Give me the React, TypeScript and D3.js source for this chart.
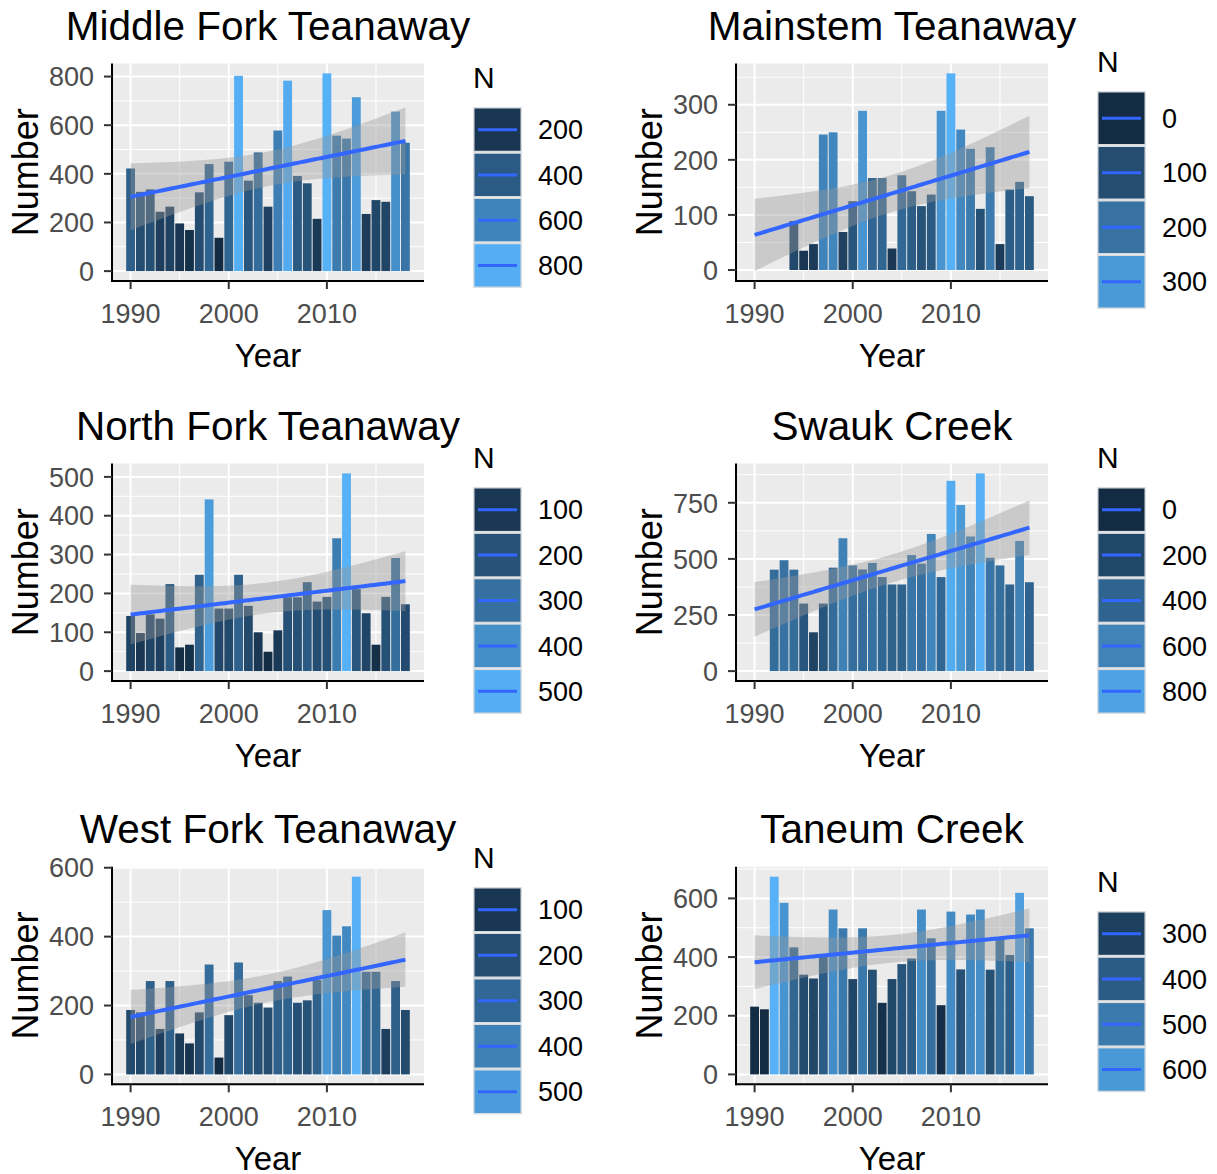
import {useEffect, useRef} from 'react';
import * as d3 from 'd3';

// data
const years = [1990, 1991, 1992, 1993, 1994, 1995, 1996, 1997, 1998, 1999, 2000, 2001, 2002, 2003, 2004,
  2005, 2006, 2007, 2008, 2009, 2010, 2011, 2012, 2013, 2014, 2015, 2016, 2017, 2018];

const middleFork = [422, 326, 336, 244, 265, 196, 169, 324, 440, 137, 450, 803, 372, 488, 265,
  578, 783, 391, 361, 215, 813, 557, 545, 715, 235, 292, 285, 656, 528];
const mainstem = [0, 0, 0, 0, 89, 35, 47, 246, 250, 69, 125, 289, 167, 167, 39,
  172, 143, 116, 137, 289, 357, 255, 220, 111, 223, 47, 146, 160, 134];
const northFork = [142, 98, 146, 135, 224, 61, 68, 248, 442, 161, 161, 248, 168, 100, 50,
  105, 190, 190, 229, 179, 191, 342, 509, 211, 149, 68, 191, 291, 172];
const swauk = [0, 0, 452, 494, 452, 301, 173, 301, 461, 592, 471, 453, 482, 419, 386,
  386, 517, 479, 611, 419, 848, 740, 600, 881, 505, 471, 386, 580, 396];
const westFork = [187, 180, 271, 132, 271, 119, 90, 180, 319, 49, 172, 325, 230, 208, 194,
  271, 284, 208, 215, 274, 477, 403, 430, 574, 298, 298, 132, 271, 187];
const taneum = [231, 222, 674, 585, 433, 340, 327, 401, 562, 498, 325, 498, 357, 244, 325,
  376, 395, 562, 464, 236, 555, 358, 545, 562, 357, 464, 407, 619, 498];

const siteNames = ['Middle Fork Teanaway', 'Mainstem Teanaway', 'North Fork Teanaway',
  'Swauk Creek', 'West Fork Teanaway', 'Taneum Creek'];
const siteCounts = [middleFork, mainstem, northFork, swauk, westFork, taneum];

const xBreaks = [1990, 2000, 2010];
const xMinor = [1995, 2005, 2015];
const yBreaks = [
  [0, 200, 400, 600, 800],
  [0, 100, 200, 300],
  [0, 100, 200, 300, 400, 500],
  [0, 250, 500, 750],
  [0, 200, 400, 600],
  [0, 200, 400, 600],
];
const legendBreaks = [
  [200, 400, 600, 800],
  [0, 100, 200, 300],
  [100, 200, 300, 400, 500],
  [0, 200, 400, 600, 800],
  [100, 200, 300, 400, 500],
  [300, 400, 500, 600],
];

// layout
const panelW = 312;
const panelH = 217.5;
const panelLeft = [112, 736, 112, 736, 112, 736];
const panelTop = [63.5, 63.5, 463.5, 463.5, 866.8, 866.8];
const keyLeft = [473, 1097, 473, 1097, 473, 1097];
const keyTop = [107, 91, 487, 487, 887, 911];
const keyH = [45.25, 54.5, 45.4, 45.4, 45.5, 45.3];
const keyW = 49;
const font = '"Liberation Sans", Arial, sans-serif';

// linear fit with 95% band, like geom_smooth(method = "lm")
const fitLm = (xs: number[], ys: number[]) => {
  const n = xs.length;
  const mx = d3.mean(xs) as number;
  const my = d3.mean(ys) as number;
  const sxx = d3.sum(xs, x => (x - mx) ** 2);
  const sxy = d3.sum(xs.map((x, i) => (x - mx) * (ys[i] - my)));
  const b = sxy / sxx;
  const a = my - b * mx;
  const rss = d3.sum(xs.map((x, i) => (ys[i] - a - b * x) ** 2));
  const s = Math.sqrt(rss / (n - 2));
  const t = 2.0518; // qt(0.975, 27)
  return d3.range(80).map(k => {
    const x = xs[0] + (xs[n - 1] - xs[0]) * k / 79;
    const fit = a + b * x;
    const se = s * Math.sqrt(1 / n + (x - mx) ** 2 / sxx);
    return {x, fit, lo: fit - t * se, hi: fit + t * se};
  });
};

const drawPanel = (
  svg: d3.Selection<SVGSVGElement, unknown, null, undefined>,
  i: number
) => {
  const values = siteCounts[i];
  const left = panelLeft[i], top = panelTop[i];
  const right = left + panelW, bottom = top + panelH;
  const smooth = fitLm(years, values);

  // scales with ggplot's 5% expansion
  const x0 = years[0] - 0.45, x1 = years[years.length - 1] + 0.45;
  const xPad = (x1 - x0) * 0.05;
  const x = d3.scaleLinear().domain([x0 - xPad, x1 + xPad]).range([left, right]);
  const yLo = Math.min(0, d3.min(smooth, d => d.lo) as number);
  const yHi = Math.max(d3.max(values) as number, d3.max(smooth, d => d.hi) as number);
  const yPad = (yHi - yLo) * 0.05;
  const y = d3.scaleLinear().domain([yLo - yPad, yHi + yPad]).range([bottom, top]);
  const color = d3.scaleLinear<string>()
    .domain(d3.extent(values) as [number, number])
    .range(['#132B43', '#56B1F7'])
    .interpolate(d3.interpolateLab);

  const g = svg.append('g');
  // panel background and grid
  g.append('rect')
    .attr('x', left).attr('y', top).attr('width', panelW).attr('height', panelH)
    .attr('fill', '#EBEBEB');
  const yb = yBreaks[i];
  const step = yb[1] - yb[0];
  const yMinor = [...yb.map(v => v + step / 2), yb[0] - step / 2]
    .filter(v => v > y.domain()[0] && v < y.domain()[1]);
  g.selectAll('line.ymin').data(yMinor).enter().append('line')
    .attr('x1', left).attr('x2', right).attr('y1', d => y(d)).attr('y2', d => y(d))
    .attr('stroke', 'white').attr('stroke-width', 1);
  g.selectAll('line.xmin').data(xMinor).enter().append('line')
    .attr('y1', top).attr('y2', bottom).attr('x1', d => x(d)).attr('x2', d => x(d))
    .attr('stroke', 'white').attr('stroke-width', 1);
  g.selectAll('line.ymaj').data(yb).enter().append('line')
    .attr('x1', left).attr('x2', right).attr('y1', d => y(d)).attr('y2', d => y(d))
    .attr('stroke', 'white').attr('stroke-width', 2);
  g.selectAll('line.xmaj').data(xBreaks).enter().append('line')
    .attr('y1', top).attr('y2', bottom).attr('x1', d => x(d)).attr('x2', d => x(d))
    .attr('stroke', 'white').attr('stroke-width', 2);

  // bars
  g.selectAll('rect.bar').data(values).enter().append('rect')
    .attr('x', (d, k) => x(years[k] - 0.45))
    .attr('width', (d, k) => x(years[k] + 0.45) - x(years[k] - 0.45))
    .attr('y', d => y(d))
    .attr('height', d => y(0) - y(d))
    .attr('fill', d => color(d));

  // smooth
  g.append('path')
    .attr('d', d3.area<{x: number, lo: number, hi: number}>()
      .x(d => x(d.x)).y0(d => y(d.lo)).y1(d => y(d.hi))(smooth))
    .attr('fill', '#999999').attr('fill-opacity', 0.4);
  g.append('path')
    .attr('d', d3.line<{x: number, fit: number}>().x(d => x(d.x)).y(d => y(d.fit))(smooth))
    .attr('fill', 'none').attr('stroke', '#3366FF').attr('stroke-width', 4);

  // axes
  g.append('line').attr('x1', left).attr('x2', left).attr('y1', top).attr('y2', bottom + 1)
    .attr('stroke', 'black').attr('stroke-width', 2);
  g.append('line').attr('x1', left - 1).attr('x2', right).attr('y1', bottom).attr('y2', bottom)
    .attr('stroke', 'black').attr('stroke-width', 2);
  g.selectAll('line.ytick').data(yb).enter().append('line')
    .attr('x1', left - 8).attr('x2', left).attr('y1', d => y(d)).attr('y2', d => y(d))
    .attr('stroke', '#333333').attr('stroke-width', 2);
  g.selectAll('line.xtick').data(xBreaks).enter().append('line')
    .attr('y1', bottom).attr('y2', bottom + 8).attr('x1', d => x(d)).attr('x2', d => x(d))
    .attr('stroke', '#333333').attr('stroke-width', 2);
  g.selectAll('text.ylab').data(yb).enter().append('text')
    .attr('x', left - 18).attr('y', d => y(d)).attr('dy', '0.36em')
    .attr('text-anchor', 'end').attr('font-size', 27).attr('fill', '#4D4D4D')
    .text(d => d);
  g.selectAll('text.xlab').data(xBreaks).enter().append('text')
    .attr('x', d => x(d)).attr('y', bottom + 42)
    .attr('text-anchor', 'middle').attr('font-size', 27).attr('fill', '#4D4D4D')
    .text(d => d);
  g.append('text')
    .attr('x', (left + right) / 2).attr('y', bottom + 86)
    .attr('text-anchor', 'middle').attr('font-size', 33).text('Year');
  g.append('text')
    .attr('transform', `translate(${left - 74},${(top + bottom) / 2}) rotate(-90)`)
    .attr('text-anchor', 'middle').attr('font-size', 36).text('Number');
  g.append('text')
    .attr('x', (left + right) / 2).attr('y', top - 23.5)
    .attr('text-anchor', 'middle').attr('font-size', 40.5).text(siteNames[i]);

  // legend
  const kx = keyLeft[i], ky = keyTop[i], kh = keyH[i];
  g.append('text').attr('x', kx).attr('y', ky - 19).attr('font-size', 30).text('N');
  const keys = g.selectAll('g.key').data(legendBreaks[i]).enter().append('g')
    .attr('transform', (d, k) => `translate(${kx},${ky + k * kh})`);
  keys.append('rect').attr('width', keyW).attr('height', kh).attr('fill', '#DADDE0');
  keys.append('rect').attr('x', 1.5).attr('y', 1.5)
    .attr('width', keyW - 3).attr('height', kh - 3).attr('fill', d => color(d));
  keys.append('line').attr('x1', 5).attr('x2', keyW - 5)
    .attr('y1', kh / 2).attr('y2', kh / 2)
    .attr('stroke', '#3366FF').attr('stroke-width', 3);
  keys.append('text').attr('x', keyW + 16).attr('y', kh / 2).attr('dy', '0.36em')
    .attr('font-size', 27).text(d => d);
};

export default function App() {
  const ref = useRef<SVGSVGElement>(null);
  useEffect(() => {
    if (!ref.current)
      return;
    const svg = d3.select(ref.current);
    svg.selectAll('*').remove();
    siteNames.forEach((_, i) => drawPanel(svg, i));
  }, [ref]);
  return <svg
    ref={ref}
    width={1217}
    height={1174}
    style={{position: 'absolute', left: 0, top: 0, background: 'white', fontFamily: font}}
  />;
}
